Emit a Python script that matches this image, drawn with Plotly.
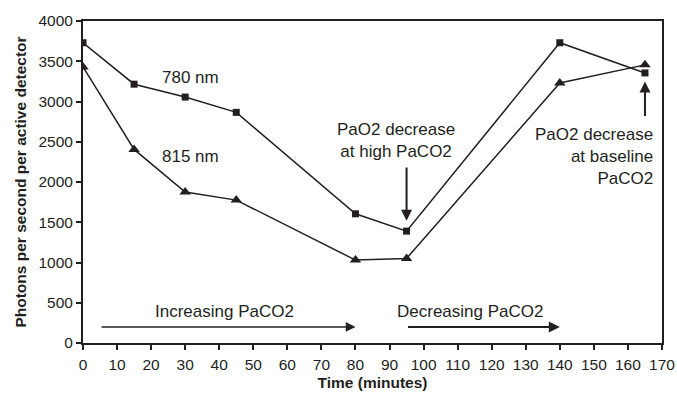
import plotly.graph_objects as go

time_min = [0, 15, 30, 45, 80, 95, 140, 165]
nm780 = [3730, 3215, 3055, 2865, 1605, 1390, 3730, 3355]
nm815 = [3430, 2405, 1875, 1775, 1030, 1050, 3230, 3455]
x_ticks = list(range(0, 171, 10))
y_ticks = list(range(0, 4001, 500))

INK = "#231f20"
FONT = "Liberation Sans, Arial, sans-serif"

fig = go.Figure()
fig.add_trace(go.Scatter(x=time_min, y=nm780, mode="lines+markers", name="780 nm",
                         line=dict(color=INK, width=1.5),
                         marker=dict(symbol="square", size=7, color=INK)))
fig.add_trace(go.Scatter(x=time_min, y=nm815, mode="lines+markers", name="815 nm",
                         line=dict(color=INK, width=1.5),
                         marker=dict(symbol="triangle-up", size=10, color=INK)))

ann = []
def txt(x, y, t, align="center", xanchor="center"):
    ann.append(dict(x=x, y=y, xref="x", yref="y", text=t, showarrow=False,
                    align=align, xanchor=xanchor, yanchor="middle",
                    font=dict(family=FONT, size=17, color=INK)))

def arrow(x0, y0, x1, y1, w=1.5, s=1.1):
    ann.append(dict(x=x1, y=y1, ax=x0, ay=y0, xref="x", yref="y", axref="x", ayref="y",
                    text="", showarrow=True, arrowhead=2, arrowsize=s, arrowwidth=w,
                    arrowcolor=INK, standoff=0, startstandoff=0))

txt(31.7, 3300, "780 nm")
txt(31.7, 2320, "815 nm")
txt(92, 2510, "PaO2 decrease<br>at high PaCO2")
txt(168, 2320, "PaO2 decrease<br>at baseline<br>PaCO2", align="right", xanchor="right")
txt(41.5, 395, "Increasing PaCO2")
txt(113.5, 395, "Decreasing PaCO2")
arrow(95, 2200, 95, 1520, 2)
arrow(165, 2800, 165, 3250, 2)
arrow(5, 200, 80, 200, 1.5, 1.3)
arrow(95, 200, 140, 200, 2)

fig.update_layout(
    width=677, height=394,
    margin=dict(l=83, r=15, t=21, b=51),
    paper_bgcolor="white", plot_bgcolor="white",
    showlegend=False,
    font=dict(family=FONT, size=15.5, color=INK),
    annotations=ann,
    xaxis=dict(range=[0, 170], tickvals=x_ticks, ticks="outside", ticklen=5, tickwidth=1.5,
               tickcolor=INK, showline=True, linecolor=INK, linewidth=2, mirror=True,
               showgrid=False, zeroline=False, ticklabelstandoff=1, automargin=False,
               title=dict(text="<b>Time (minutes)</b>", standoff=6,
                          font=dict(family=FONT, size=15.5, color=INK))),
    yaxis=dict(range=[0, 4000], tickvals=y_ticks, ticks="outside", ticklen=5, tickwidth=1.5,
               tickcolor=INK, showline=True, linecolor=INK, linewidth=2, mirror=True,
               showgrid=False, zeroline=False, automargin=False,
               title=dict(text="<b>Photons per second per active detector</b>", standoff=8,
                          font=dict(family=FONT, size=15.5, color=INK))),
)
fig.write_html("out.html")
